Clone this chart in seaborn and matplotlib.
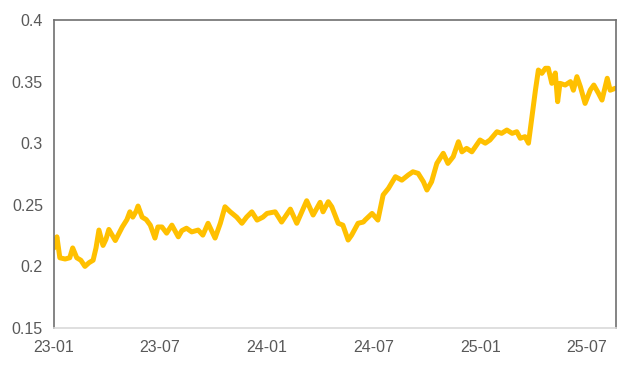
import matplotlib
matplotlib.use("Agg")
import matplotlib.pyplot as plt
import seaborn as sns
import pandas as pd
import numpy as np

# days since 2023-01-01
day_offsets = [0, 5, 10, 19, 27, 32, 39, 46, 53, 60, 67, 72, 77, 84, 89, 94, 105, 117, 125, 130,
               135, 141, 144, 151, 158, 165, 173, 178, 185, 193, 202, 213, 219, 227, 236, 247,
               255, 264, 276, 285, 293, 302, 313, 322, 330, 339, 348, 358, 365, 379, 390, 405,
               416, 433, 444, 456, 461, 470, 476, 487, 495, 504, 510, 521, 530, 533, 545, 555,
               564, 573, 585, 596, 607, 615, 624, 633, 639, 647, 656, 667, 675, 684, 693, 699,
               707, 716, 722, 730, 739, 747, 759, 767, 776, 785, 793, 799, 807, 813, 819, 825,
               830, 836, 842, 847, 853, 859, 863, 867, 876, 885, 890, 896, 902, 910, 919, 925,
               933, 939, 948, 953, 962]
values = [0.215, 0.224, 0.207, 0.206, 0.207, 0.215, 0.207, 0.205, 0.200, 0.203, 0.205, 0.215,
          0.2295, 0.217, 0.222, 0.230, 0.221, 0.232, 0.238, 0.2443, 0.240, 0.245, 0.249, 0.240,
          0.238, 0.2335, 0.223, 0.232, 0.232, 0.227, 0.2335, 0.224, 0.229, 0.231, 0.228, 0.2295,
          0.2254, 0.235, 0.223, 0.235, 0.2484, 0.2443, 0.240, 0.235, 0.240, 0.2443, 0.2376, 0.240,
          0.243, 0.2443, 0.236, 0.2465, 0.235, 0.2533, 0.2417, 0.252, 0.2443, 0.2525, 0.2484,
          0.235, 0.2335, 0.2214, 0.2254, 0.235, 0.236, 0.2376, 0.243, 0.2376, 0.258, 0.2633,
          0.2728, 0.270, 0.2742, 0.2768, 0.2755, 0.2687, 0.262, 0.2687, 0.2836, 0.2918, 0.2836,
          0.289, 0.3012, 0.293, 0.2958, 0.293, 0.2971, 0.3026, 0.300, 0.3026, 0.3093, 0.308,
          0.3107, 0.308, 0.3093, 0.304, 0.3053, 0.300, 0.3215, 0.3432, 0.3594, 0.3567, 0.3608,
          0.3608, 0.3486, 0.357, 0.3337, 0.3486, 0.3472, 0.350, 0.343, 0.354, 0.3458, 0.3323,
          0.3432, 0.3472, 0.3405, 0.335, 0.3527, 0.343, 0.3446]

x_tick_dates = ["2023-01-01", "2023-07-01", "2024-01-01", "2024-07-01", "2025-01-01", "2025-07-01"]
x_tick_labels = ["23-01", "23-07", "24-01", "24-07", "25-01", "25-07"]
y_ticks = [0.15, 0.2, 0.25, 0.3, 0.35, 0.4]
y_tick_labels = ["0.15", "0.2", "0.25", "0.3", "0.35", "0.4"]

start = pd.Timestamp("2023-01-01")
df = pd.DataFrame({"date": start + pd.to_timedelta(day_offsets, unit="D"), "value": values})

sns.set_style("white")
plt.rcParams["font.family"] = ["Liberation Sans", "DejaVu Sans"]

fig = plt.figure(figsize=(6.4, 3.74), dpi=100)
ax = fig.add_axes([54/640, 1-328/374, (616-54)/640, (328-20)/374])
sns.lineplot(data=df, x="date", y="value", ax=ax, color="#FFC000", linewidth=3.6)

ax.set_xlim(start, start + pd.Timedelta(days=963))
ax.set_ylim(0.15, 0.4)
ax.set_xticks(pd.to_datetime(x_tick_dates))
ax.set_xticklabels(x_tick_labels)
ax.set_yticks(y_ticks)
ax.set_yticklabels(y_tick_labels)
ax.set_xlabel("")
ax.set_ylabel("")
ax.tick_params(axis="both", length=0, labelsize=11.5, labelcolor="#595959")
ax.tick_params(axis="x", pad=9)
ax.tick_params(axis="y", pad=8)
for s in ["left", "top", "right"]:
    ax.spines[s].set_color("#6f6f6f")
    ax.spines[s].set_linewidth(1.2)
ax.spines["bottom"].set_color("#d9d9d9")
ax.spines["bottom"].set_linewidth(1.2)
ax.grid(False)

fig.savefig("out.png", dpi=100)
